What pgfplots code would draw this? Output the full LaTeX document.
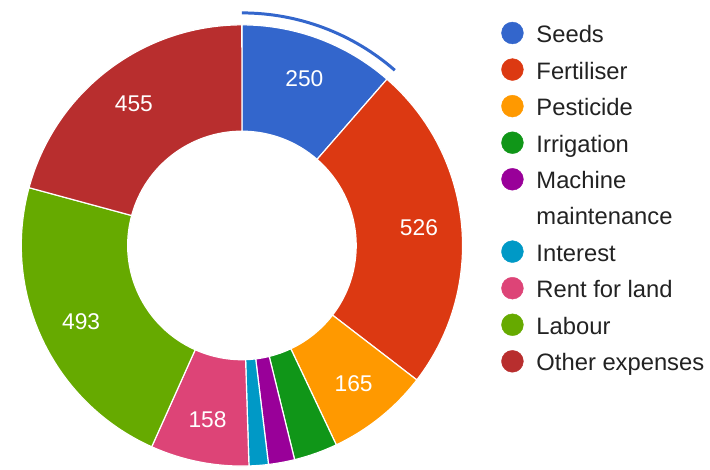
\documentclass[border=0pt]{standalone}
\usepackage{fontspec}
\setmainfont{Liberation Sans}
\usepackage{pgfplots}
\usepackage{pgfplotstable}
\pgfplotsset{compat=1.18}

% google chart default colours, in slice order
\definecolor{slice0}{HTML}{3366CC}
\definecolor{slice1}{HTML}{DC3912}
\definecolor{slice2}{HTML}{FF9900}
\definecolor{slice3}{HTML}{109618}
\definecolor{slice4}{HTML}{990099}
\definecolor{slice5}{HTML}{0099C6}
\definecolor{slice6}{HTML}{DD4477}
\definecolor{slice7}{HTML}{66AA00}
\definecolor{slice8}{HTML}{B82E2E}
\definecolor{legtext}{HTML}{222222}

\pgfplotstableread[col sep=comma]{
name,value
Seeds,250
Fertiliser,526
Pesticide,165
Irrigation,70
Machine maintenance,42
Interest,31
Rent for land,158
Labour,493
Other expenses,455
}\costs

\begin{document}
\begin{tikzpicture}
% total of all costs
\pgfmathsetmacro\total{0}
\foreach \i in {0,...,8}{
  \pgfplotstablegetelem{\i}{value}\of\costs
  \pgfmathsetmacro\newtotal{\total+\pgfplotsretval}
  \global\let\total\newtotal
}
% slice angles (clockwise from top) and label spots
\gdef\acc{0}
\foreach \i in {0,...,8}{
  \pgfplotstablegetelem{\i}{value}\of\costs
  \let\sval\pgfplotsretval
  \pgfmathsetmacro\send{\acc+\sval/\total*360}
  \pgfmathsetmacro\smid{(\acc+\send)/2}
  \pgfmathsetmacro\lx{239+179*sin(\smid)}
  \pgfmathsetmacro\ly{225+179*cos(\smid)}
  \pgfmathsetmacro\ta{90-\acc}
  \pgfmathsetmacro\tb{90-\send}
  \expandafter\xdef\csname ta\i\endcsname{\ta}
  \expandafter\xdef\csname tb\i\endcsname{\tb}
  \expandafter\xdef\csname lx\i\endcsname{\lx}
  \expandafter\xdef\csname ly\i\endcsname{\ly}
  \expandafter\xdef\csname val\i\endcsname{\sval}
  \global\let\acc\send
}
\begin{axis}[
    scale only axis, width=710bp, height=472bp,
    xmin=0, xmax=710, ymin=0, ymax=472,
    hide axis, clip=false,
    legend cell align=left,
    legend image code/.code={\fill[#1] (11bp,2.6bp) circle (11bp);},
    legend style={
        at={(axis cs:500,450)}, anchor=north west,
        draw=none, fill=none, inner sep=0pt, outer sep=0pt,
        row sep=10bp, column sep=13bp,
        font=\fontsize{24}{28}\selectfont, text=legtext,
        nodes={inner sep=0pt, text height=20bp, text depth=6bp},
    },
]
\path (axis cs:0,0) (axis cs:710,472);

% donut slices
\pgfplotsinvokeforeach{0,...,8}{
  \fill[slice#1, draw=white, line width=1.2bp]
    (axis cs:239,225) ++({\csname ta#1\endcsname}:222bp)
    arc[start angle={\csname ta#1\endcsname}, end angle={\csname tb#1\endcsname}, radius=222bp]
    -- ++({\csname tb#1\endcsname}:-107bp)
    arc[start angle={\csname tb#1\endcsname}, end angle={\csname ta#1\endcsname}, radius=115bp]
    -- cycle;
}

% hover ring on the seeds slice
\draw[slice0, line width=3bp]
  (axis cs:239,225) ++({\csname ta0\endcsname}:234bp)
  arc[start angle={\csname ta0\endcsname}, end angle={\csname tb0\endcsname}, radius=234bp];

% value labels (small slices have none)
\pgfplotsinvokeforeach{0,1,2,6,7,8}{
  \node[text=white, font=\fontsize{23}{27}\selectfont]
    at (axis cs:\csname lx#1\endcsname,\csname ly#1\endcsname) {\csname val#1\endcsname};
}

\addlegendimage{slice0}\addlegendentry{Seeds}
\addlegendimage{slice1}\addlegendentry{Fertiliser}
\addlegendimage{slice2}\addlegendentry{Pesticide}
\addlegendimage{slice3}\addlegendentry{Irrigation}
\addlegendimage{slice4}\addlegendentry{Machine}
\addlegendimage{empty legend}\addlegendentry{maintenance}
\addlegendimage{slice5}\addlegendentry{Interest}
\addlegendimage{slice6}\addlegendentry{Rent for land}
\addlegendimage{slice7}\addlegendentry{Labour}
\addlegendimage{slice8}\addlegendentry{Other expenses}
\end{axis}
\end{tikzpicture}
\end{document}
